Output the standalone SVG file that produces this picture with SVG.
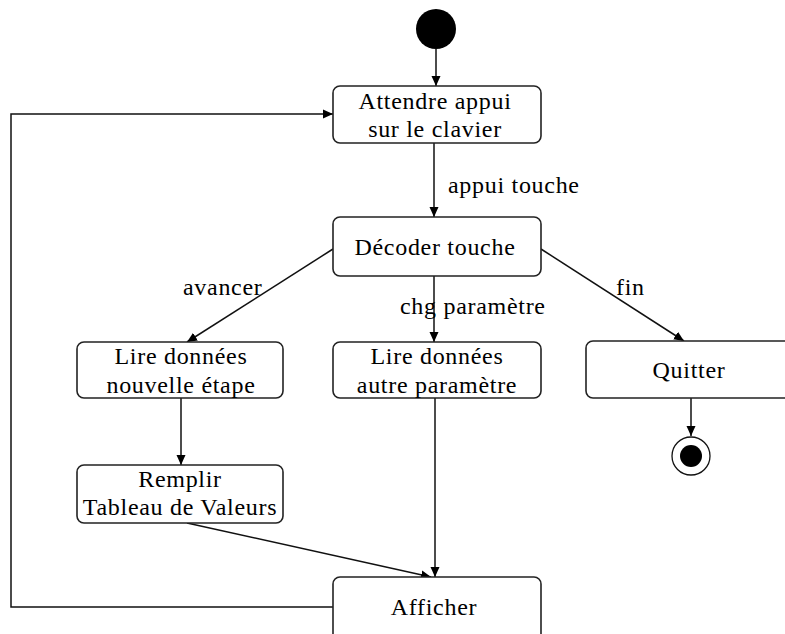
<svg xmlns="http://www.w3.org/2000/svg" width="785" height="634" viewBox="0 0 785 634">
  <defs>
    <marker id="arrow" markerWidth="10" markerHeight="10" refX="10" refY="5" orient="auto" markerUnits="userSpaceOnUse">
      <path d="M0,0.5 L10,5 L0,9.5 Z" fill="#000"/>
    </marker>
    <style>
      .state rect { fill: #fff; stroke: #222; stroke-width: 1.6; }
      .state text, .label { font-family: "Liberation Serif", "Times New Roman", serif; font-size: 24px; letter-spacing: 0.7px; fill: #000; }
      .state text { text-anchor: middle; }
      .edge { fill: none; stroke: #111; stroke-width: 1.5; marker-end: url(#arrow); }
    </style>
  </defs>
  <rect width="785" height="634" fill="#fff"/>

  <!-- transitions -->
  <g id="connectors">
    <path class="edge" d="M436,49 L436,86"/>
    <path class="edge" d="M434,143 L434,217"/>
    <path class="edge" d="M333,249 L187,342"/>
    <path class="edge" d="M434,276 L434,342"/>
    <path class="edge" d="M541,249 L684,341"/>
    <path class="edge" d="M181,398 L181,465"/>
    <path class="edge" d="M187,523 L431,577"/>
    <path class="edge" d="M435,398 L435,577"/>
    <path class="edge" d="M691,398 L691,436"/>
    <path class="edge" d="M333,607 L11,607 L11,114 L333,114"/>
    <text class="label" x="448" y="193">appui touche</text>
    <text class="label" x="183" y="295">avancer</text>
    <text class="label" x="400" y="314">chg paramètre</text>
    <text class="label" x="616" y="295">fin</text>
  </g>

  <!-- initial pseudo-state -->
  <g id="start">
    <circle cx="436" cy="29" r="20" fill="#000"/>
  </g>

  <g id="attendre" class="state">
    <rect x="333" y="86" width="208" height="57" rx="7"/>
    <text x="435" y="109">Attendre appui</text>
    <text x="435" y="137">sur le clavier</text>
  </g>

  <g id="decoder" class="state">
    <rect x="333" y="217" width="208" height="59" rx="7"/>
    <text x="435" y="255">Décoder touche</text>
  </g>

  <g id="lire-etape" class="state">
    <rect x="77" y="342" width="206" height="56" rx="7"/>
    <text x="181" y="364">Lire données</text>
    <text x="181" y="393">nouvelle étape</text>
  </g>

  <g id="lire-parametre" class="state">
    <rect x="333" y="342" width="208" height="56" rx="7"/>
    <text x="437" y="364">Lire données</text>
    <text x="437" y="393">autre paramètre</text>
  </g>

  <g id="quitter" class="state">
    <rect x="586" y="341" width="208" height="57" rx="7"/>
    <text x="689" y="378">Quitter</text>
  </g>

  <g id="remplir" class="state">
    <rect x="77" y="465" width="206" height="58" rx="7"/>
    <text x="180" y="487">Remplir</text>
    <text x="180" y="515">Tableau de Valeurs</text>
  </g>

  <g id="afficher" class="state">
    <rect x="333" y="577" width="208" height="70" rx="7"/>
    <text x="434" y="615">Afficher</text>
  </g>

  <!-- final pseudo-state -->
  <g id="end">
    <circle cx="691" cy="456" r="19" fill="#fff" stroke="#111" stroke-width="1.3"/>
    <circle cx="691" cy="456" r="11" fill="#000"/>
  </g>
</svg>
